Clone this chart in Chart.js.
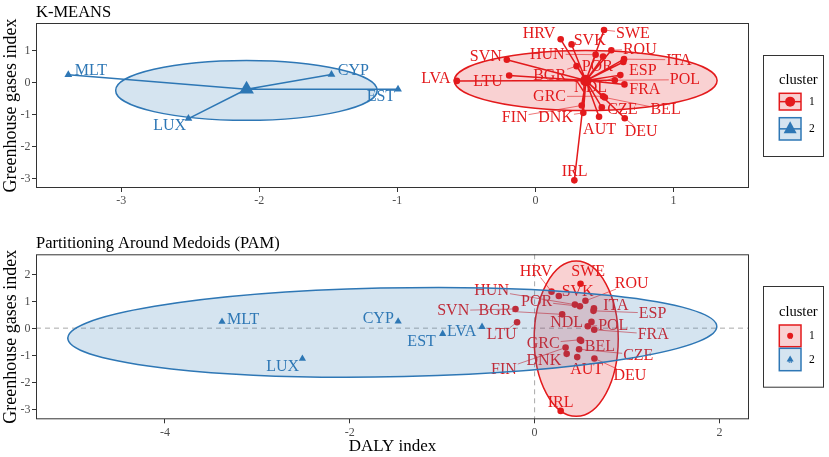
<!DOCTYPE html>
<html>
<head>
<meta charset="utf-8">
<script src="https://cdn.jsdelivr.net/npm/chart.js@4.4.1/dist/chart.umd.min.js"></script>
<style>
  body { margin: 0; background: #fff; }
  canvas { position: absolute; left: 0; }
  #topChart { top: 0; }
  #botChart { top: 215px; }
</style>
</head>
<body>
<canvas id="topChart" width="829" height="215"></canvas>
<canvas id="botChart" width="829" height="242"></canvas>
<script>
// --- data ---
const countries = ['MLT', 'CYP', 'EST', 'LUX', 'LVA', 'SVN', 'LTU', 'HRV', 'SVK', 'BGR', 'SWE', 'ROU', 'HUN', 'POR',
  'ITA', 'ESP', 'NDL', 'POL', 'FRA', 'GRC', 'BEL', 'FIN', 'CZE', 'DNK', 'AUT', 'DEU', 'IRL'];
const dalyIndex = [-3.383, -1.477, -0.995, -2.513, -0.569, -0.207, -0.19, 0.183, 0.262, 0.298, 0.497, 0.55, 0.436, 0.49,
  0.642, 0.637, 0.615, 0.575, 0.645, 0.49, 0.503, 0.335, 0.481, 0.347, 0.461, 0.647, 0.282];
const ghgIndex = [0.24, 0.25, -0.21, -1.13, 0.05, 0.71, 0.22, 1.35, 1.19, 0.51, 1.64, 1.01, 0.87, 0.81,
  0.73, 0.64, 0.23, 0.07, -0.06, -0.43, -0.47, -0.72, -0.78, -0.95, -1.07, -1.12, -3.06];
const kmeansCluster = [2, 2, 2, 2, 1, 1, 1, 1, 1, 1, 1, 1, 1, 1, 1, 1, 1, 1, 1, 1, 1, 1, 1, 1, 1, 1, 1];
const pamCluster = [2, 2, 2, 2, 2, 1, 1, 1, 1, 1, 1, 1, 1, 1, 1, 1, 1, 1, 1, 1, 1, 1, 1, 1, 1, 1, 1];

const topXTicks = [-3, -2, -1, 0, 1];
const topYTicks = [-3, -2, -1, 0, 1];
const botXTicks = [-4, -2, 0, 2];
const botYTicks = [-3, -2, -1, 0, 1, 2];

// concentration ellipses (centre, semi axes in data units, tilt in degrees)
const kmeansEllipses = [
  { cluster: 1, cx: 0.364, cy: 0.06, a: 0.952, b: 0.94, angle: 0 },
  { cluster: 2, cx: -2.093, cy: -0.25, a: 0.947, b: 0.935, angle: 0 }
];
const pamEllipses = [
  { cluster: 1, cx: 0.45, cy: -0.39, a: 0.455, b: 2.87, angle: 0 },
  { cluster: 2, cx: -1.54, cy: -0.155, a: 3.52, b: 1.64, angle: 4.5 }
];

// --- layout: where each text label sits relative to its point (px) ---
const topLabelOffsets = {
  MLT: [22.5, -4.3], CYP: [21.9, -4.3], EST: [-17.1, 7.3], LUX: [-18.8, 7], LVA: [-21, -2.8], SVN: [-21, -3.2],
  LTU: [-21.1, 5.4], HRV: [-21.7, -6.1], SVK: [18.1, -3.8], BGR: [-26.9, 8.7], SWE: [28.9, 3.2], ROU: [28.5, -1],
  HUN: [-48.3, -0.5], POR: [-5.8, 10], ITA: [54.8, 0.7], ESP: [19.5, 7.8], NDL: [-29.8, 12], POL: [70.1, -0.5],
  FRA: [20.4, 5.4], GRC: [-53.5, 0.2], BEL: [60.7, 12.2], FIN: [-67, 11.5], CZE: [20.5, 1.6], DNK: [-27.7, 4.1],
  AUT: [0.5, 13], DEU: [16.5, 13.1], IRL: [0.3, -9.2]
};
const botLabelOffsets = {
  MLT: [21.2, -2.8], CYP: [-19.9, -2.8], LUX: [-19.8, 7.1], EST: [-21.1, 7], LVA: [-20.4, 4.7], LTU: [-15.4, 11.7],
  SVN: [-62.3, 1.6], BGR: [-67.2, -3.8], HUN: [-83.3, -14], POR: [-43.3, -4.7], HRV: [-15.6, -20.1], SWE: [7.7, -12.2],
  SVK: [18.8, -4.4], ROU: [46.2, -17.7], ITA: [22, -3.5], ESP: [59.1, 2.3], NDL: [-24.8, 0.6], POL: [25.5, -1.4],
  FRA: [59, 4.4], GRC: [-36.7, 3.4], BEL: [18.8, 5], CZE: [59.2, 5.6], DNK: [-22.8, 6], FIN: [-61.7, 21.2],
  AUT: [9.4, 12.7], DEU: [35.5, 16.4], IRL: [-0.1, -8.4]
};

const FONT = '"Liberation Serif", "DejaVu Serif", serif';
const RED = '#E31A1C';
const BLUE = '#2E77B5';
const clusterColor = { 1: RED, 2: BLUE };
const clusterFill = { 1: 'rgba(227,26,28,0.2)', 2: 'rgba(46,119,181,0.2)' };
const TICK_FONT = { family: FONT, size: 12 };

const pointsOf = (assign, c) => countries
  .map((name, i) => ({ x: dalyIndex[i], y: ghgIndex[i], name: name }))
  .filter((p, i) => assign[i] === c);

const meanOf = (pts) => ({
  x: pts.reduce((s, p) => s + p.x, 0) / pts.length,
  y: pts.reduce((s, p) => s + p.y, 0) / pts.length
});

// ellipse in data space, mapped to pixels through the scales
const ellipsePath = (ctx, xs, ys, e) => {
  const cx = xs.getPixelForValue(e.cx), cy = ys.getPixelForValue(e.cy);
  const sx = xs.getPixelForValue(e.cx + 1) - cx;
  const sy = ys.getPixelForValue(e.cy + 1) - cy;
  ctx.save();
  ctx.translate(cx, cy);
  ctx.scale(sx, sy);
  ctx.rotate(e.angle * Math.PI / 180);
  ctx.beginPath();
  ctx.ellipse(0, 0, e.a, e.b, 0, 0, Math.PI * 2);
  ctx.restore();
};

const drawLegend = (ctx, lg) => {
  ctx.save();
  ctx.strokeStyle = '#333';
  ctx.lineWidth = 1;
  ctx.strokeRect(lg.box[0] + 0.5, lg.box[1] + 0.5, lg.box[2], lg.box[3]);
  ctx.fillStyle = '#000';
  ctx.font = '14.5px ' + FONT;
  ctx.textAlign = 'left';
  ctx.textBaseline = 'alphabetic';
  ctx.fillText('cluster', lg.box[0] + 16, lg.titleY);
  lg.keys.forEach((k, i) => {
    const c = i + 1;
    const [kx, ky, kw, kh] = k;
    ctx.fillStyle = clusterFill[c];
    ctx.fillRect(kx, ky, kw, kh);
    ctx.strokeStyle = clusterColor[c];
    ctx.lineWidth = 1.5;
    ctx.strokeRect(kx, ky, kw, kh);
    const mx = kx + kw / 2, my = ky + kh / 2;
    ctx.fillStyle = clusterColor[c];
    if (lg.style === 'kmeans') {
      ctx.beginPath();
      ctx.moveTo(kx, my);
      ctx.lineTo(kx + kw, my);
      ctx.stroke();
      ctx.beginPath();
      if (c === 1) {
        ctx.arc(mx, my, 5, 0, Math.PI * 2);
      } else {
        ctx.moveTo(mx, my - 7.5);
        ctx.lineTo(mx + 6.5, my + 4.5);
        ctx.lineTo(mx - 6.5, my + 4.5);
        ctx.closePath();
      }
      ctx.fill();
    } else {
      ctx.beginPath();
      if (c === 1) {
        ctx.arc(mx, my, 3, 0, Math.PI * 2);
      } else {
        ctx.moveTo(mx, my - 4);
        ctx.lineTo(mx + 3.5, my + 2);
        ctx.lineTo(mx - 3.5, my + 2);
        ctx.closePath();
      }
      ctx.fill();
      ctx.font = '9px ' + FONT;
      ctx.textAlign = 'center';
      ctx.textBaseline = 'middle';
      ctx.fillText('a', mx, my + 1);
    }
    ctx.fillStyle = '#000';
    ctx.font = '11.5px ' + FONT;
    ctx.textAlign = 'left';
    ctx.textBaseline = 'middle';
    ctx.fillText(String(c), kx + kw + 8, my + 0.5);
  });
  ctx.restore();
};

const decor = {
  id: 'decor',
  beforeDatasetsDraw(chart, args, opts) {
    const { ctx, chartArea: a, scales: { x, y } } = chart;
    ctx.save();
    ctx.beginPath();
    ctx.rect(a.left, a.top, a.width, a.height);
    ctx.clip();
    if (opts.refLines) {
      ctx.strokeStyle = '#A8A8A8';
      ctx.lineWidth = 1;
      ctx.setLineDash([5, 4]);
      ctx.beginPath();
      ctx.moveTo(a.left, y.getPixelForValue(0));
      ctx.lineTo(a.right, y.getPixelForValue(0));
      ctx.moveTo(x.getPixelForValue(0), a.top);
      ctx.lineTo(x.getPixelForValue(0), a.bottom);
      ctx.stroke();
      ctx.setLineDash([]);
    }
    if (opts.spokes) {
      ctx.lineWidth = 1.5;
      [1, 2].forEach(c => {
        const pts = pointsOf(opts.assign, c);
        const m = meanOf(pts);
        ctx.strokeStyle = clusterColor[c];
        ctx.beginPath();
        pts.forEach(p => {
          ctx.moveTo(x.getPixelForValue(p.x), y.getPixelForValue(p.y));
          ctx.lineTo(x.getPixelForValue(m.x), y.getPixelForValue(m.y));
        });
        ctx.stroke();
      });
    }
    ctx.restore();
  },
  afterDatasetsDraw(chart, args, opts) {
    const { ctx, chartArea: a, scales: { x, y } } = chart;
    ctx.save();
    // text labels with leader lines
    ctx.font = '16px ' + FONT;
    ctx.textAlign = 'center';
    ctx.textBaseline = 'middle';
    countries.forEach((name, i) => {
      const col = clusterColor[opts.assign[i]];
      const px = x.getPixelForValue(dalyIndex[i]);
      const py = y.getPixelForValue(ghgIndex[i]);
      const off = opts.labelOffsets[name];
      const lx = px + off[0], ly = py + off[1];
      const hw = ctx.measureText(name).width / 2 + 1, hh = 6;
      const dx = px - lx, dy = py - ly;
      const t = Math.min(hw / Math.max(Math.abs(dx), 1e-6), hh / Math.max(Math.abs(dy), 1e-6));
      if (t < 1) {
        const ex = lx + dx * t, ey = ly + dy * t;
        const gap = Math.hypot(px - ex, py - ey);
        if (gap > 9) {
          ctx.strokeStyle = col;
          ctx.globalAlpha = 0.75;
          ctx.lineWidth = 0.8;
          ctx.beginPath();
          ctx.moveTo(ex, ey);
          ctx.lineTo(px - (px - ex) * 3 / gap, py - (py - ey) * 3 / gap);
          ctx.stroke();
          ctx.globalAlpha = 1;
        }
      }
      ctx.fillStyle = col;
      ctx.fillText(name, lx, ly + 0.5);
    });
    // ellipses on top, with translucent fill
    ctx.beginPath();
    ctx.rect(a.left, a.top, a.width, a.height);
    ctx.clip();
    opts.ellipses.forEach(e => {
      ellipsePath(ctx, x, y, e);
      ctx.fillStyle = clusterFill[e.cluster];
      ctx.fill();
      ctx.strokeStyle = clusterColor[e.cluster];
      ctx.lineWidth = 1.5;
      ctx.stroke();
    });
    ctx.restore();
    // panel border
    ctx.save();
    ctx.strokeStyle = '#333';
    ctx.lineWidth = 1;
    ctx.strokeRect(a.left + 0.5, a.top + 0.5, a.width - 1, a.height - 1);
    ctx.restore();
  },
  afterDraw(chart, args, opts) {
    const { ctx, chartArea: a, scales: { y } } = chart;
    ctx.save();
    // y tick labels, placed from the y scale
    ctx.fillStyle = '#4D4D4D';
    ctx.font = TICK_FONT.size + 'px ' + FONT;
    ctx.textAlign = 'right';
    ctx.textBaseline = 'middle';
    y.ticks.forEach(t => {
      ctx.fillText(String(t.value), a.left - 5.5, y.getPixelForValue(t.value) + 0.5);
    });
    // panel title
    ctx.fillStyle = '#000';
    ctx.font = '16.5px ' + FONT;
    ctx.textAlign = 'left';
    ctx.textBaseline = 'alphabetic';
    ctx.fillText(opts.title, a.left, opts.titleY);
    ctx.restore();
    drawLegend(ctx, opts.legend);
  }
};

const makeScales = (xr, yr, xTicks, yTicks, xTitle, xHeight) => {
  const grid = { display: true, drawOnChartArea: false, drawTicks: true, tickLength: 4, color: '#333' };
  return {
    x: {
      type: 'linear', min: xr[0], max: xr[1],
      afterBuildTicks: s => { s.ticks = xTicks.map(v => ({ value: v })); },
      afterFit: s => { s.height = xHeight; },
      ticks: { font: TICK_FONT, color: '#4D4D4D', padding: 2, autoSkip: false, maxRotation: 0, callback: v => String(v) },
      grid: grid,
      border: { display: false },
      title: { display: !!xTitle, text: xTitle, color: '#000', font: { family: FONT, size: 17 }, padding: { top: 0, bottom: 0 } }
    },
    y: {
      type: 'linear', min: yr[0], max: yr[1],
      afterBuildTicks: s => { s.ticks = yTicks.map(v => ({ value: v })); },
      afterFit: s => { s.width = 36; },
      ticks: { display: false },
      grid: grid,
      border: { display: false },
      title: { display: true, text: 'Greenhouse gases index', color: '#000', font: { family: FONT, size: 18 }, padding: { top: 0, bottom: 0 } }
    }
  };
};

const pointSets = (assign, redR, blueR) => [
  {
    label: '1', data: pointsOf(assign, 1), pointStyle: 'circle', pointRadius: redR,
    backgroundColor: RED, borderWidth: 0
  },
  {
    label: '2', data: pointsOf(assign, 2), pointStyle: 'triangle', pointRadius: blueR,
    backgroundColor: BLUE, borderWidth: 0
  }
];

const baseOptions = {
  responsive: false,
  animation: false,
  events: [],
  plugins: { legend: { display: false }, tooltip: { enabled: false } }
};

// K-MEANS panel
const topSets = pointSets(kmeansCluster, 3.3, 4.5);
topSets.push({
  label: 'centres',
  data: [meanOf(pointsOf(kmeansCluster, 1)), meanOf(pointsOf(kmeansCluster, 2))],
  pointStyle: ['circle', 'triangle'],
  pointRadius: [5.8, 8.5],
  backgroundColor: [RED, BLUE],
  borderWidth: 0
});

new Chart(document.getElementById('topChart'), {
  type: 'scatter',
  data: { datasets: topSets },
  options: Object.assign({}, baseOptions, {
    layout: { padding: { left: 0, top: 23, right: 80, bottom: 0 } },
    scales: makeScales([-3.617, 1.547], [-3.30, 1.86], topXTicks, topYTicks, '', 27),
    plugins: Object.assign({}, baseOptions.plugins, {
      decor: {
        assign: kmeansCluster, spokes: true, refLines: false,
        labelOffsets: topLabelOffsets, ellipses: kmeansEllipses,
        title: 'K-MEANS', titleY: 16.5,
        legend: { style: 'kmeans', box: [763, 55, 60, 101], titleY: 83.5,
          keys: [[779.3, 93.3, 21.7, 16.7], [779.3, 117.7, 21.7, 22.3]] }
      }
    })
  }),
  plugins: [decor]
});

// PAM panel
new Chart(document.getElementById('botChart'), {
  type: 'scatter',
  data: { datasets: pointSets(pamCluster, 3.3, 4.2) },
  options: Object.assign({}, baseOptions, {
    layout: { padding: { left: 0, top: 39.3, right: 80, bottom: 0 } },
    scales: makeScales([-5.396, 2.32], [-3.37, 2.73], botXTicks, botYTicks, 'DALY index', 37.7),
    plugins: Object.assign({}, baseOptions.plugins, {
      decor: {
        assign: pamCluster, spokes: false, refLines: true,
        labelOffsets: botLabelOffsets, ellipses: pamEllipses,
        title: 'Partitioning Around Medoids (PAM)', titleY: 32.5,
        legend: { style: 'pam', box: [763, 71, 60, 100.7], titleY: 100.5,
          keys: [[779.3, 110, 21.7, 21.7], [779.3, 133.3, 21.7, 22.4]] }
      }
    })
  }),
  plugins: [decor]
});
</script>
</body>
</html>
